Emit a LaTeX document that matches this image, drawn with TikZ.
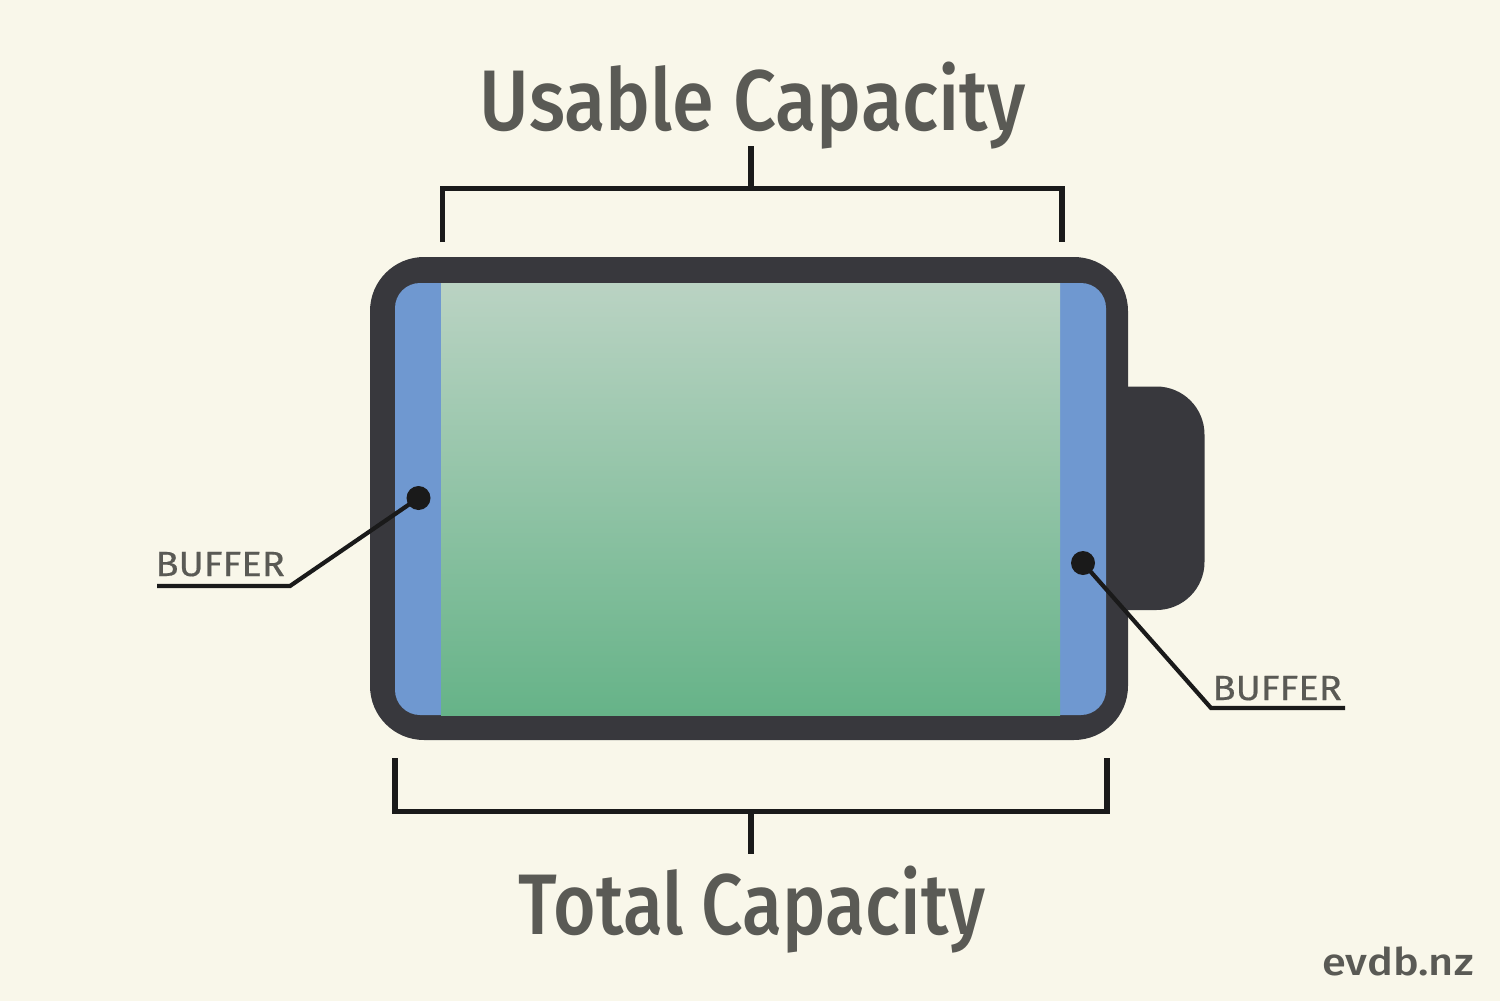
\documentclass[tikz,border=0pt]{standalone}
\usepackage{fontspec}
\setmainfont{Fira Sans Medium}
\newfontfamily\smallfam[FakeBold=0.4]{Fira Sans}
\definecolor{bgc}{HTML}{F9F7EA}
\definecolor{shell}{HTML}{38383D}
\definecolor{bluec}{HTML}{6F98D0}
\definecolor{inktc}{HTML}{1A1A1A}
\definecolor{textc}{HTML}{5A5A55}
\definecolor{gtop}{HTML}{BAD3C3}
\definecolor{gbot}{HTML}{66B388}
\tikzset{
  leader/.style={draw=inktc,line width=2.1pt,line cap=butt,line join=miter},
  bracketline/.style={draw=inktc,line width=2.8pt,line cap=butt,line join=miter},
  dotn/.style={circle,fill=inktc,inner sep=0pt,minimum size=12pt},
  bigtext/.style={text=textc,inner sep=0pt,anchor=base,font=\fontsize{43}{43}\selectfont},
  smalltext/.style={text=textc,inner sep=0pt,anchor=base west,font=\smallfam\fontsize{17.5}{18}\selectfont},
}
\begin{document}
\begin{tikzpicture}[x=0.5pt,y=-0.5pt]
\useasboundingbox (0,0) rectangle (1500,1001);
\fill[bgc] (0,0) rectangle (1500,1001);
% terminal
\fill[shell,rounded corners=24pt] (1080,386.5) rectangle (1204.5,610);
% shell
\fill[shell,rounded corners=27pt] (370,257) rectangle (1128,740);
% inner
\fill[bluec,rounded corners=12.5pt] (395,283) rectangle (1106,715);
% usable
\shade[top color=gtop,bottom color=gbot] (441,283) rectangle (1060,715);
% leaders
\node[dotn] (dl) at (418.5,498) {};
\node[dotn] (dr) at (1083,563) {};
\coordinate (lk) at (290,586);
\coordinate (le) at (157,586);
\coordinate (rk) at (1211,708);
\coordinate (re) at (1345,708);
\draw[leader] (dl.center) -- (lk) -- (le);
\draw[leader] (dr.center) -- (rk) -- (re);
% brackets
\coordinate (ta) at (442.5,242);
\coordinate (tb) at (442.5,188.5);
\coordinate (tc) at (1062,188.5);
\coordinate (td) at (1062,242);
\coordinate (te) at (751,188.5);
\coordinate (tf) at (751,146);
\draw[bracketline] (ta) -- (tb) -- (tc) -- (td);
\draw[bracketline] (te) -- (tf);
\coordinate (ba) at (395,758);
\coordinate (bb) at (395,811.5);
\coordinate (bc) at (1107,811.5);
\coordinate (bd) at (1107,758);
\coordinate (be) at (750.7,811.5);
\coordinate (bf) at (750.7,854);
\draw[bracketline] (ba) -- (bb) -- (bc) -- (bd);
\draw[bracketline] (be) -- (bf);
% text
\node[bigtext,xscale=0.88] (t1) at (753,130) {Usable Capacity};
\node[bigtext,xscale=0.85] (t2) at (752,934) {Total Capacity};
\node[smalltext,xscale=1.09] (b1) at (155,576) {BUFFER};
\node[smalltext,xscale=1.09] (b2) at (1212,700) {BUFFER};
\node[text=textc,inner sep=0pt,anchor=base east,font=\fontsize{19}{20}\selectfont,xscale=1.14] (w) at (1474,975) {evdb.nz};
\end{tikzpicture}
\end{document}
